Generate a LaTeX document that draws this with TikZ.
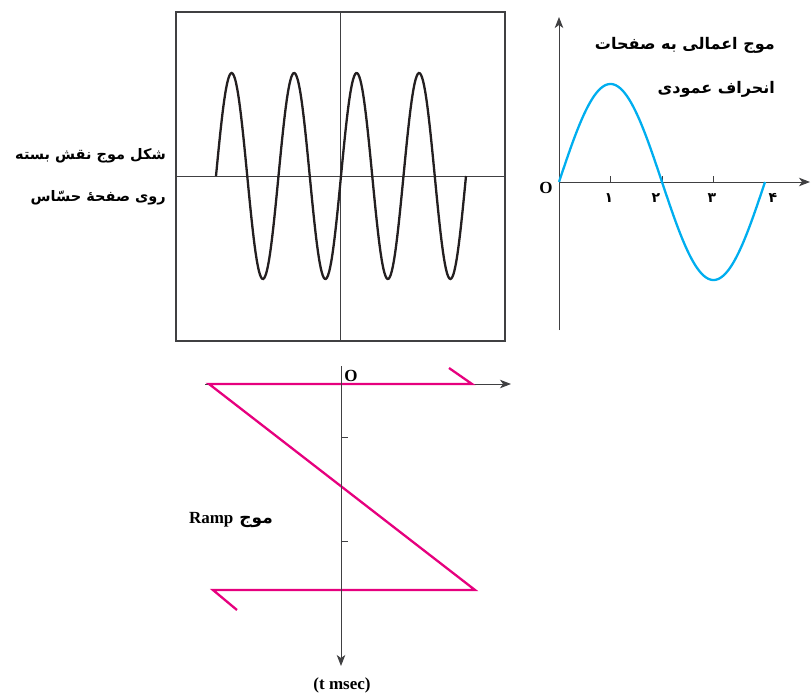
\documentclass[tikz,border=0pt]{standalone}
\usepackage{fontspec}
\setmainfont{Liberation Serif}
\newfontfamily\farsi[Script=Arabic]{DejaVu Sans}
\TeXXeTstate=1
\usetikzlibrary{arrows.meta,calc}
\definecolor{scopeink}{RGB}{35,31,32}
\definecolor{axisgray}{RGB}{64,64,66}
\definecolor{deflblue}{RGB}{0,174,239}
\definecolor{rampmag}{RGB}{230,0,126}
\tikzset{
  axisline/.style = {
    draw=axisgray,
    line width=1pt
  },
  axisarrow/.style = {
    axisline,
    -{Stealth[length=11pt,width=8.5pt,inset=3pt]}
  },
  screenbox/.style = {
    rectangle,
    draw=axisgray,
    line width=1.4pt,
    minimum width=329pt,
    minimum height=329pt,
    inner sep=0pt
  },
  tracewave/.style = {
    draw=scopeink,
    line width=2.3pt
  },
  defwave/.style = {
    draw=deflblue,
    line width=2.3pt
  },
  rampwave/.style = {
    draw=rampmag,
    line width=2.3pt
  },
  fatext/.style = {
    align=right,
    inner sep=0pt,
    font={\farsi\bfseries\fontsize{16}{44}\selectfont}
  },
  fadigit/.style = {
    inner sep=0pt,
    font={\farsi\bfseries\fontsize{14}{16}\selectfont}
  },
  latext/.style = {
    inner sep=0pt,
    font={\bfseries\fontsize{17}{20}\selectfont}
  }
}

\begin{document}
\begin{tikzpicture}[x=1pt, y=-1pt]
    \useasboundingbox (0,0) rectangle (811,693);
    % screen with the traced wave
    \node[screenbox] (screen) at (340.5,176.5) {};
    \draw[axisline] (screen.north) -- (screen.south);
    \draw[axisline] (screen.west) -- (screen.east);
    \draw[tracewave] plot[domain=216:466, samples=240, smooth] (\x, {176 - 103*sin((\x-216)*5.76)});
    \node[fatext, anchor=east, font={\farsi\bfseries\fontsize{14.5}{42}\selectfont}] (screenlbl) at (166,177) {\beginR شکل موج نقش بسته\endR\\\beginR روی صفحهٔ حسّاس\endR};
    % vertical deflection input
    \coordinate (dorig) at (559,182);
    \coordinate (dtop) at (559,17);
    \coordinate (dbot) at (559,330);
    \coordinate (dright) at (810,182);
    \draw[axisarrow] (dbot) -- (dtop);
    \draw[axisarrow] (dorig) -- (dright);
    \foreach \k in {1,2,3}
      \draw[axisline] ($(dorig)+(51.5*\k,0)$) -- ++(0,-6);
    \draw[defwave] plot[domain=559:765, samples=160, smooth] (\x, {182 - 98*sin((\x-559)*1.7476)});
    \node[latext] (dO) at (546,188) {O};
    \node[fadigit] (d1) at (609,198) {۱};
    \node[fadigit] (d2) at (656,198) {۲};
    \node[fadigit] (d3) at (712,198) {۳};
    \node[fadigit] (d4) at (773,198) {۴};
    \node[fatext, anchor=east] (deflbl) at (775,67) {\beginR موج اعمالی به صفحات\endR\\\beginR انحراف عمودی\endR};
    % ramp (time base)
    \coordinate (rleft) at (205,384);
    \coordinate (rright) at (511,384);
    \coordinate (rtop) at (341,366);
    \coordinate (rbot) at (341,666);
    \draw[axisarrow] (rleft) -- (rright);
    \draw[rampwave] (449,368) -- (472,384) -- (209,384) -- (475,590) -- (213,590) -- (237,610);
    \draw[axisarrow] (rtop) -- (rbot);
    \draw[axisline] (341,437) -- ++(7,0);
    \draw[axisline] (341,541) -- ++(7,0);
    \node[latext] (rO) at (351,376) {O};
    \node[latext, anchor=east] (ramplbl) at (273,520) {\farsi\beginR موج \beginL{\rmfamily Ramp}\endL\endR};
    \node[latext] (tlbl) at (342,685) {(t msec)};
\end{tikzpicture}
\end{document}
